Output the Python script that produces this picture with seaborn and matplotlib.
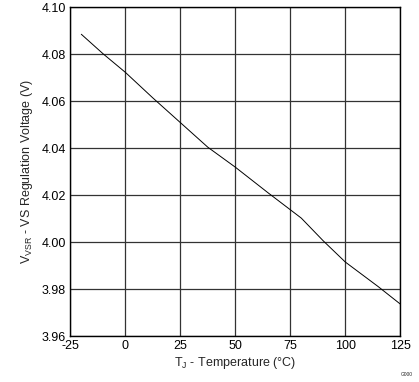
import numpy as np
import pandas as pd
import matplotlib
matplotlib.use("Agg")
import matplotlib.pyplot as plt
import seaborn as sns

# ----------------------------------------------
# Data
# ----------------------------------------------
temp_c = [-20, -10, 0, 12.5, 25, 37.5, 50, 65, 80, 90, 100, 115, 125]
v_reg = [4.0885, 4.0801, 4.0723, 4.0614, 4.0509, 4.0404, 4.0319, 4.0209,
         4.0102, 4.0005, 3.9915, 3.9810, 3.9736]
x_ticks = [-25, 0, 25, 50, 75, 100, 125]
y_ticks = [3.96, 3.98, 4.00, 4.02, 4.04, 4.06, 4.08, 4.10]

df = pd.DataFrame({"T": temp_c, "V": v_reg})

sns.set_style("white")
plt.rcParams["font.family"] = ["Liberation Sans", "DejaVu Sans"]
plt.rcParams["axes.unicode_minus"] = False

fig = plt.figure(figsize=(4.19, 3.82), dpi=100)
ax = fig.add_axes([0.1678, 0.1204, 0.7876, 0.8606])

sns.lineplot(data=df, x="T", y="V", ax=ax, color="black", linewidth=0.7)

ax.set_xlim(-25, 125)
ax.set_ylim(3.96, 4.10)
ax.set_xticks(x_ticks)
ax.set_yticks(y_ticks)
ax.set_yticklabels([f"{v:.2f}" for v in y_ticks])
ax.grid(True, color="#333333", linewidth=0.9)
ax.tick_params(length=0, labelsize=9, colors="black", pad=3)
for s in ax.spines.values():
    s.set_color("black")
    s.set_linewidth(1.0)

ax.set_xlabel(r"T$_\mathregular{J}$ - Temperature (°C)", fontsize=9, labelpad=2)
ax.set_ylabel(r"V$_\mathregular{VSR}$ - VS Regulation Voltage (V)", fontsize=9, labelpad=5)

fig.text(0.985, 0.012, "G000", fontsize=3.5, ha="right", va="bottom")

fig.savefig("out.png", dpi=100)
